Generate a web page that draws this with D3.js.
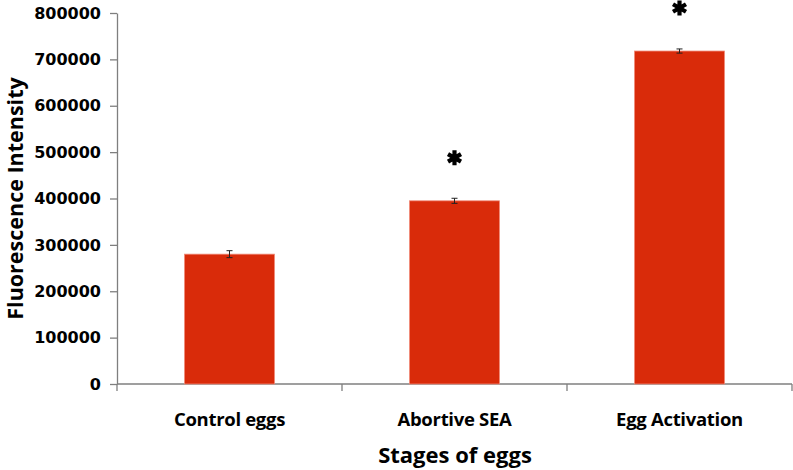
<!DOCTYPE html>
<html><head><meta charset="utf-8">
<script src="https://cdn.jsdelivr.net/npm/d3@7"></script>
<style>body{margin:0;background:#fff}svg{display:block}</style>
</head><body>
<script>
const categories = ["Control eggs", "Abortive SEA", "Egg Activation"];
const values = [280000, 395000, 718000];
const errors = [7500, 5500, 4500];
const significant = [false, true, true];
const yTicks = [0, 100000, 200000, 300000, 400000, 500000, 600000, 700000, 800000];

const W = 793, H = 470;
const m = {left: 117, right: 1, top: 13, bottom: 86};
const svg = d3.select("body").append("svg").attr("width", W).attr("height", H);
const font = "'Open Sans', sans-serif";
const tickFont = "'DejaVu Sans', sans-serif";

const x = d3.scaleBand().domain(categories).range([m.left, W - m.right]).paddingInner(0.6).paddingOuter(0.3);
const y = d3.scaleLinear().domain([0, 800000]).range([H - m.bottom, m.top]);

// y axis
const ya = svg.append("g").attr("transform", `translate(${m.left},0)`)
  .call(d3.axisLeft(y).tickValues(yTicks).tickFormat(d3.format("d")).tickSize(7).tickSizeOuter(0));
ya.select(".domain").attr("stroke", "#7f7f7f").attr("stroke-width", 1.3);
ya.selectAll(".tick line").attr("stroke", "#7f7f7f").attr("stroke-width", 1.3);
ya.selectAll(".tick text").attr("x", -16).attr("font-family", tickFont).attr("font-weight", "bold")
  .attr("font-size", 16).attr("fill", "#000");

// x axis (category boundaries)
const xa = svg.append("g").attr("transform", `translate(0,${y(0)})`);
xa.append("line").attr("x1", m.left).attr("x2", W - m.right).attr("stroke", "#7f7f7f").attr("stroke-width", 1.3);
const span = W - m.right - m.left;
const bounds = [m.left, m.left + span / 3, m.left + 2 * span / 3, W - m.right];
xa.selectAll("line.b").data(bounds).enter().append("line").attr("class", "b")
  .attr("x1", d => d).attr("x2", d => d).attr("y1", 0).attr("y2", 7)
  .attr("stroke", "#7f7f7f").attr("stroke-width", 1.3);
xa.selectAll("text").data(categories).enter().append("text")
  .attr("x", d => x(d) + x.bandwidth() / 2).attr("y", 42)
  .attr("text-anchor", "middle").attr("font-family", font).attr("font-weight", "bold")
  .attr("font-size", 18.5).attr("letter-spacing", -0.3).attr("fill", "#000").text(d => d);

// bars
svg.selectAll("rect.bar").data(categories).enter().append("rect").attr("class", "bar")
  .attr("x", d => x(d)).attr("width", x.bandwidth())
  .attr("y", (d, i) => y(values[i])).attr("height", (d, i) => y(0) - y(values[i]))
  .attr("fill", "#d92b0a").attr("stroke", "#f08a78").attr("stroke-width", 0.8);

// error bars
const eb = svg.selectAll("g.eb").data(categories).enter().append("g")
  .attr("transform", d => `translate(${x(d) + x.bandwidth() / 2},0)`);
eb.append("line").attr("y1", (d, i) => y(values[i] + errors[i])).attr("y2", (d, i) => y(values[i] - errors[i]))
  .attr("stroke", "#222").attr("stroke-width", 1);
eb.append("line").attr("x1", -3).attr("x2", 3).attr("y1", (d, i) => y(values[i] + errors[i])).attr("y2", (d, i) => y(values[i] + errors[i]))
  .attr("stroke", "#222").attr("stroke-width", 1);
eb.append("line").attr("x1", -3).attr("x2", 3).attr("y1", (d, i) => y(values[i] - errors[i])).attr("y2", (d, i) => y(values[i] - errors[i]))
  .attr("stroke", "#222").attr("stroke-width", 1);

// asterisks (significance markers)
const r = 7.5;
const starPath = [90, 30, -30].map(a => {
  const t = a * Math.PI / 180;
  return `M${-r * Math.cos(t)},${-r * Math.sin(t)}L${r * Math.cos(t)},${r * Math.sin(t)}`;
}).join("");
svg.selectAll("path.star").data(categories.filter((d, i) => significant[i])).enter().append("path")
  .attr("class", "star")
  .attr("transform", d => `translate(${x(d) + x.bandwidth() / 2},${y(values[categories.indexOf(d)]) - 43})`)
  .attr("d", starPath).attr("stroke", "#000").attr("stroke-width", 4.2).attr("fill", "none");

// axis titles
svg.append("text").attr("transform", `translate(23,${(y(0) + y(800000)) / 2}) rotate(-90)`)
  .attr("text-anchor", "middle").attr("font-family", font).attr("font-weight", "bold")
  .attr("font-size", 21.5).attr("fill", "#000").text("Fluorescence Intensity");
svg.append("text").attr("x", 455).attr("y", 463)
  .attr("text-anchor", "middle").attr("font-family", font).attr("font-weight", "bold")
  .attr("font-size", 22).attr("fill", "#000").text("Stages of eggs");
</script>
</body></html>
